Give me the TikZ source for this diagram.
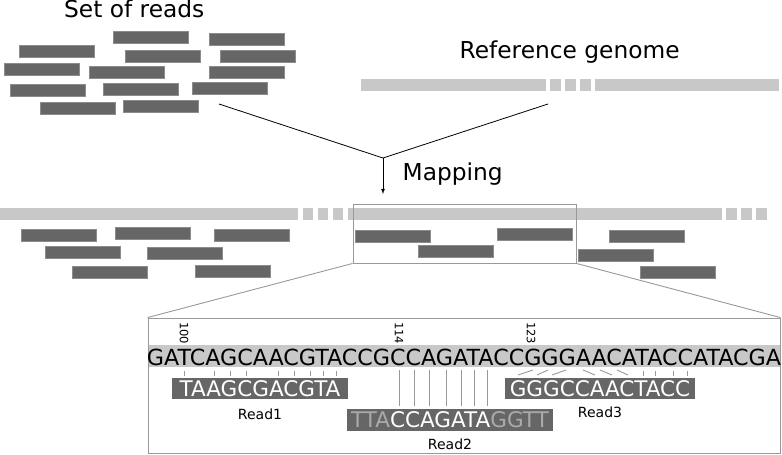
\documentclass[tikz,border=0pt]{standalone}
\usepackage{fontspec}
\setmainfont{DejaVu Sans}
\usetikzlibrary{arrows,positioning,calc}

\definecolor{readgray}{HTML}{666666}
\definecolor{refgray}{HTML}{C8C8C8}
\definecolor{boxgray}{HTML}{999999}
\definecolor{mismatch}{HTML}{AAAAAA}

\begin{document}
\begin{tikzpicture}[x=1pt,y=-1pt,
  read/.style={rectangle,fill=readgray,draw=readgray!75,line width=0.4pt,minimum width=75pt,minimum height=12pt,inner sep=0pt},
  refbar/.style={rectangle,fill=refgray,inner sep=0pt,minimum height=12pt},
  title/.style={font=\fontsize{23.3}{23.3}\selectfont,inner sep=0pt,anchor=base west},
  seqread/.style={rectangle,fill=readgray,text=white,font=\fontsize{21.5}{21.5}\selectfont,inner sep=0pt,minimum height=21pt},
  readlabel/.style={font=\fontsize{14}{14}\selectfont,inner sep=0pt},
  posnum/.style={font=\fontsize{11.5}{11.5}\selectfont,inner sep=0pt,rotate=-90},
  edge/.style={line width=0.8pt,black},
  zoomline/.style={draw=boxgray,line width=0.9pt},
  match/.style={draw=boxgray,line width=0.9pt}]
\useasboundingbox (0,0) rectangle (782,455);

% set of reads
\node (settitle) [title] at (64,17.5) {Set of reads};
\node (r1)  [read] at (150.5,37) {};
\node (r2)  [read] at (247,39) {};
\node (r3)  [read] at (57,51) {};
\node (r4)  [read] at (162.5,56) {};
\node (r5)  [read] at (257.5,56) {};
\node (r6)  [read] at (41.5,69) {};
\node (r7)  [read] at (126.5,72) {};
\node (r8)  [read] at (247,72) {};
\node (r9)  [read] at (47.5,90) {};
\node (r10) [read] at (140.5,89) {};
\node (r11) [read] at (230,88) {};
\node (r12) [read] at (77.5,108) {};
\node (r13) [read] at (161,106) {};

% reference genome
\node (reftitle) [title] at (459.5,58) {Reference genome};
\node (g1) [refbar,minimum width=185pt] at (453.5,85) {};
\node (g2) [refbar,minimum width=11pt] at (555.5,85) {};
\node (g3) [refbar,minimum width=11pt] at (570.5,85) {};
\node (g4) [refbar,minimum width=11pt] at (585.5,85) {};
\node (g5) [refbar,minimum width=184pt] at (687,85) {};

% mapping
\coordinate (readsend) at (219,104);
\coordinate (genomeend) at (548,104);
\coordinate (join) at (383,158);
\coordinate (mapped) at (383,194);
\node (maptitle) [title] at (402.5,180) {Mapping};

% mapped genome
\node (m1) [refbar,minimum width=298pt] at (149,214) {};
\node (m2) [refbar,minimum width=10pt] at (308,214) {};
\node (m3) [refbar,minimum width=10pt] at (323,214) {};
\node (m4) [refbar,minimum width=10pt] at (338,214) {};
\node (m5) [refbar,minimum width=374pt] at (535,214) {};
\node (m6) [refbar,minimum width=11pt] at (731.5,214) {};
\node (m7) [refbar,minimum width=11pt] at (746.5,214) {};
\node (m8) [refbar,minimum width=11pt] at (761.5,214) {};

\node (a1)  [read] at (58.5,235) {};
\node (a2)  [read] at (152.5,233.5) {};
\node (a3)  [read] at (252,235) {};
\node (a4)  [read] at (83,252) {};
\node (a5)  [read] at (184.5,253) {};
\node (a6)  [read] at (109.5,272) {};
\node (a7)  [read] at (233,271) {};
\node (a8)  [read] at (392.5,236) {};
\node (a9)  [read] at (455.5,251) {};
\node (a10) [read] at (534.5,234) {};
\node (a11) [read] at (646.5,236) {};
\node (a12) [read] at (615.5,255) {};
\node (a13) [read] at (677.5,272.5) {};

\node (zoombox) [draw=boxgray,line width=0.9pt,minimum width=223pt,minimum height=59pt,inner sep=0pt] at (464.5,233.5) {};

% detail
\node (band) [refbar,minimum width=632pt,minimum height=22pt] at (464,356) {};
\node (detail) [draw=boxgray,line width=0.9pt,minimum width=632pt,minimum height=135pt,inner sep=0pt] at (464,385.5) {};
\node (refseq) [font=\fontsize{22.2}{22.2}\selectfont,inner sep=0pt,anchor=base] at (464,365) {GATCAGCAACGTACCGCCAGATACCGGGAACATACCATACGA};

\node (p100) [posnum] at (184,333) {100};
\node (p114) [posnum] at (399,333) {114};
\node (p123) [posnum] at (531,333) {123};

\node (read1) [seqread,minimum width=176pt] at (260,388.5) {TAAGCGACGTA};
\node (read2) [seqread,minimum width=206pt,minimum height=22pt] at (450,420) {{\color{mismatch}TTA}CCAGATA{\color{mismatch}GGTT}};
\node (read3) [seqread,minimum width=190pt] at (600,388.5) {GGGCCAACTACC};

\node (lab1) [readlabel] at (260,414) {Read1};
\node (lab2) [readlabel] at (450,444.5) {Read2};
\node (lab3) [readlabel] at (600,412.5) {Read3};

\draw [edge] (readsend) to (join);
\draw [edge] (genomeend) to (join);
\draw [edge,-latex] (join) to (mapped);
\draw [zoomline] (zoombox.south west) to (detail.north west);
\draw [zoomline] (zoombox.south east) to (detail.north east);

\foreach \x in {184,214,230,246,278,294,310,323,336,643,655,673,687}
  \draw [match] (\x,371) -- (\x,376);
\foreach \x in {399,414,429,446,461,474,487}
  \draw [match] (\x,370) -- (\x,406);
\foreach \a/\b in {518/533,537/548,552/566}
  \draw [match] (\a,375) -- (\b,370);
\foreach \a/\b in {583/595,600/612,617/628}
  \draw [match] (\a,370) -- (\b,375);
\end{tikzpicture}
\end{document}
